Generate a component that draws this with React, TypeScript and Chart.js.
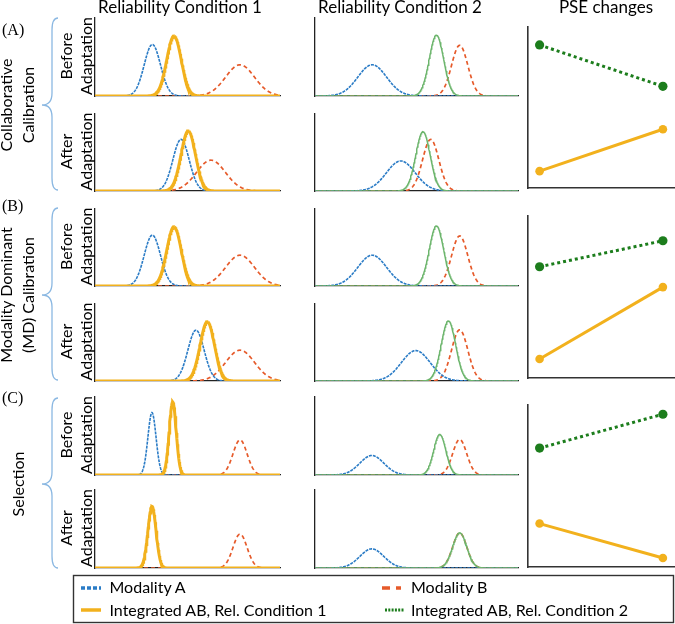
import React, { useEffect, useRef } from "react";
import { Chart, registerables } from "chart.js";
Chart.register(...registerables);

// ---------------- data ----------------
const columnTitles = ["Reliability Condition 1", "Reliability Condition 2", "PSE changes"];
const panelLetters = ["(A)", "(B)", "(C)"];
const strategyLabels = [["Collaborative", "Calibration"], ["Modality Dominant", "(MD) Calibration"], ["Selection"]];
const stageLabels = [["Before", "Adaptation"], ["After", "Adaptation"]];
const legendLabels = ["Modality A", "Modality B", "Integrated AB, Rel. Condition 1", "Integrated AB, Rel. Condition 2"];

// rows: A-before, A-after, B-before, B-after, C-before, C-after (stimulus axis in arbitrary units)
const meanModalityA = [31, 46.5, 31, 54.6, 30.8, 30.8];
const meanModalityB = [78.4, 62.7, 78.4, 78.4, 78.4, 78.4];
const meanIntegrated1 = [42.7, 50.4, 42.7, 60.7, 42, 30.8];
const meanIntegrated2 = [65.8, 58.5, 65.8, 72.3, 67.6, 78.4];

const sdModalityA1 = [4.4, 4.4, 4.4, 4.4, 2.2, 2.2];
const sdModalityB1 = [7.8, 7.8, 7.8, 7.8, 3.8, 3.8];
const sdIntegrated1 = [3.9, 3.9, 3.9, 3.9, 1.9, 2.2];
const sdModalityA2 = [7.8, 7.8, 7.8, 7.8, 6.5, 6.5];
const sdModalityB2 = [4.4, 4.4, 4.4, 4.4, 3.8, 3.8];
const sdIntegrated2 = [3.9, 3.9, 3.9, 3.9, 3.3, 3.8];

const peakModalityA1 = [66, 67, 66, 66, 80, 79];
const peakModalityB1 = [40, 40, 40, 40, 45, 43.5];
const peakIntegrated1 = [77, 78, 77, 77, 93.5, 79];
const peakModalityA2 = [40, 39, 40, 39.5, 25, 24.5];
const peakModalityB2 = [65, 67, 65, 66.5, 45.5, 45];
const peakIntegrated2 = [78, 77, 78, 78, 52, 45];

const stimulusMax1 = 100;
const stimulusMax2 = 110;

const pseStages = [0, 1]; // before, after adaptation
const pseIntegrated1 = [[42.7, 50.4], [42.7, 60.7], [42, 30.8]];
const pseIntegrated2 = [[65.9, 58.3], [65.8, 72.3], [66.5, 77.5]];
const pseAxisMin = [39.6, 37.95, 27.9];
const pseAxisMax = [69.2, 78.5, 80.5];
const pseStageMin = -0.094;
const pseStageMax = 1.09;

// ---------------- styles / layout ----------------
const BLUE = "#2b7cc6";
const ORANGE = "#e65a2a";
const YELLOW = "#f2b11d";
const GREEN_LIGHT = "#6cb56c";
const GREEN_DARK = "#1c7d1c";
const AXIS = "#222";
const BRACE = "#8bb8e2";
const FONT = "Lato, 'Open Sans', sans-serif";
const PAD = 6;

const colX = [
  { left: 95, width: 185 },
  { left: 315, width: 203 },
  { left: 528, width: 146 },
];
const rowY = [
  { top: 18, height: 78 },
  { top: 114, height: 77 },
  { top: 209, height: 77 },
  { top: 304, height: 77 },
  { top: 397, height: 78 },
  { top: 490, height: 78 },
];
const pseY = [
  { top: 27, height: 161 },
  { top: 216, height: 162 },
  { top: 405, height: 162 },
];

function gaussian(mean: number, sd: number, peak: number, xMax: number) {
  const pts: { x: number; y: number }[] = [];
  const n = xMax * 4;
  for (let i = 0; i <= n; i++) {
    const x = i / 4;
    pts.push({ x, y: peak * Math.exp(-0.5 * ((x - mean) / sd) ** 2) });
  }
  return pts;
}

function hiddenAxis(min: number, max: number) {
  return {
    type: "linear" as const,
    min,
    max,
    ticks: { display: false },
    grid: { display: false, drawTicks: false },
    border: { display: true, color: AXIS, width: 1.3 },
  };
}

function curveConfig(row: number, cond: number): any {
  const xMax = cond === 0 ? stimulusMax1 : stimulusMax2;
  const integ =
    cond === 0
      ? {
          data: gaussian(meanIntegrated1[row], sdIntegrated1[row], peakIntegrated1[row], xMax),
          borderColor: YELLOW,
          borderWidth: 3,
        }
      : {
          data: gaussian(meanIntegrated2[row], sdIntegrated2[row], peakIntegrated2[row], xMax),
          borderColor: GREEN_LIGHT,
          borderWidth: 1.5,
        };
  const a = {
    data: gaussian(
      meanModalityA[row],
      cond === 0 ? sdModalityA1[row] : sdModalityA2[row],
      cond === 0 ? peakModalityA1[row] : peakModalityA2[row],
      xMax
    ),
    borderColor: BLUE,
    borderWidth: 1.6,
    borderDash: [3, 1],
  };
  const b = {
    data: gaussian(
      meanModalityB[row],
      cond === 0 ? sdModalityB1[row] : sdModalityB2[row],
      cond === 0 ? peakModalityB1[row] : peakModalityB2[row],
      xMax
    ),
    borderColor: ORANGE,
    borderWidth: 1.7,
    borderDash: [4, 3],
  };
  return {
    type: "line",
    data: { datasets: [integ, a, b].map((d) => ({ ...d, pointRadius: 0, fill: false, tension: 0 })) },
    options: {
      animation: false,
      responsive: false,
      maintainAspectRatio: false,
      parsing: false,
      layout: { padding: PAD },
      plugins: { legend: { display: false }, tooltip: { enabled: false } },
      scales: { x: hiddenAxis(0, xMax), y: hiddenAxis(0, 100) },
    },
  };
}

function pseConfig(g: number): any {
  return {
    type: "line",
    data: {
      datasets: [
        {
          data: pseStages.map((s, i) => ({ x: s, y: pseIntegrated1[g][i] })),
          borderColor: YELLOW,
          backgroundColor: YELLOW,
          borderWidth: 3,
          pointRadius: 4.3,
          pointBorderWidth: 0,
          pointBackgroundColor: YELLOW,
        },
        {
          data: pseStages.map((s, i) => ({ x: s, y: pseIntegrated2[g][i] })),
          borderColor: GREEN_DARK,
          backgroundColor: GREEN_DARK,
          borderWidth: 3,
          borderDash: [3, 3],
          pointRadius: 4.6,
          pointBorderWidth: 0,
          pointBackgroundColor: GREEN_DARK,
        },
      ],
    },
    options: {
      animation: false,
      responsive: false,
      maintainAspectRatio: false,
      parsing: false,
      layout: { padding: PAD },
      plugins: { legend: { display: false }, tooltip: { enabled: false } },
      scales: {
        x: { ...hiddenAxis(pseStageMin, pseStageMax), border: { display: true, color: "#333", width: 1.6 } },
        y: { ...hiddenAxis(pseAxisMin[g], pseAxisMax[g]), border: { display: true, color: "#333", width: 1.6 } },
      },
    },
  };
}

function MiniChart({ left, top, width, height, config }: any) {
  const ref = useRef<HTMLCanvasElement | null>(null);
  useEffect(() => {
    if (!ref.current) return;
    const chart = new Chart(ref.current, config);
    return () => chart.destroy();
  }, []);
  const w = width + 2 * PAD;
  const h = height + 2 * PAD;
  return (
    <canvas
      ref={ref}
      width={w}
      height={h}
      style={{ position: "absolute", left: left - PAD, top: top - PAD, width: w, height: h }}
    />
  );
}

function bracePath(t: number, m: number, b: number) {
  return `M58 ${t} C53.5 ${t} 52 ${t + 4} 52 ${t + 12} L52 ${m - 12} C52 ${m - 5} 49 ${m} 42 ${m} C49 ${m} 52 ${m + 5} 52 ${m + 12} L52 ${b - 12} C52 ${b - 4} 53.5 ${b} 58 ${b}`;
}

const groupSpans = [
  { top: 18, mid: 105, bottom: 190, letterY: 34.5 },
  { top: 208, mid: 295, bottom: 380, letterY: 210.5 },
  { top: 398, mid: 484, bottom: 568, letterY: 403 },
];

export default function App() {
  const charts: any[] = [];
  for (let r = 0; r < 6; r++) {
    for (let c = 0; c < 2; c++) {
      charts.push(
        <MiniChart
          key={`c${r}-${c}`}
          left={colX[c].left}
          top={rowY[r].top}
          width={colX[c].width}
          height={rowY[r].height}
          config={curveConfig(r, c)}
        />
      );
    }
  }
  for (let g = 0; g < 3; g++) {
    charts.push(
      <MiniChart
        key={`p${g}`}
        left={colX[2].left}
        top={pseY[g].top}
        width={colX[2].width}
        height={pseY[g].height}
        config={pseConfig(g)}
      />
    );
  }

  const texts: any[] = [];
  // column titles
  const titleCenters = [180, 400, 606];
  columnTitles.forEach((t, i) =>
    texts.push(
      <text key={`t${i}`} x={titleCenters[i]} y={12.5} textAnchor="middle" fontSize={17}>
        {t}
      </text>
    )
  );
  // group letters, braces and strategy labels
  groupSpans.forEach((gs, g) => {
    texts.push(
      <text key={`l${g}`} x={2} y={gs.letterY} fontSize={16} fontFamily="'Liberation Serif', 'DejaVu Serif', serif">
        {panelLetters[g]}
      </text>
    );
    texts.push(<path key={`b${g}`} d={bracePath(gs.top, gs.mid, gs.bottom)} stroke={BRACE} strokeWidth={1.3} fill="none" />);
    const lines = strategyLabels[g];
    const baselines = lines.length === 2 ? [12, 33.5] : [23.5];
    lines.forEach((ln, j) =>
      texts.push(
        <text
          key={`s${g}-${j}`}
          x={baselines[j]}
          y={gs.mid}
          textAnchor="middle"
          fontSize={16}
          transform={`rotate(-90 ${baselines[j]} ${gs.mid})`}
        >
          {ln}
        </text>
      )
    );
  });
  // stage labels
  rowY.forEach((ry, r) => {
    const cy = ry.top + ry.height / 2 - 1;
    const lab = stageLabels[r % 2];
    const bl = [71.5, 92.3];
    lab.forEach((ln, j) =>
      texts.push(
        <text key={`st${r}-${j}`} x={bl[j]} y={cy} textAnchor="middle" fontSize={16} transform={`rotate(-90 ${bl[j]} ${cy})`}>
          {ln}
        </text>
      )
    );
  });

  return (
    <div style={{ position: "absolute", left: 0, top: 0, width: 675, height: 624, overflow: "hidden", background: "#fff" }}>
      {charts}
      <svg
        width={675}
        height={624}
        style={{ position: "absolute", left: 0, top: 0, pointerEvents: "none" }}
        fontFamily={FONT}
        fill="#000"
      >
        {texts}
        {/* legend */}
        <rect x={73.5} y={575.5} width={600} height={47} fill="none" stroke="#333" strokeWidth={1.4} />
        <line x1={81} x2={101} y1={588} y2={588} stroke={BLUE} strokeWidth={3.5} strokeDasharray="4 2" />
        <line x1={81} x2={101} y1={610} y2={610} stroke={YELLOW} strokeWidth={3.5} />
        <line x1={382} x2={401} y1={588} y2={588} stroke={ORANGE} strokeWidth={3.5} strokeDasharray="8 6" />
        <line x1={385} x2={404} y1={610} y2={610} stroke={GREEN_DARK} strokeWidth={3} strokeDasharray="2 1.3" />
        <text x={109.5} y={593} fontSize={16}>{legendLabels[0]}</text>
        <text x={109.5} y={615.5} fontSize={16}>{legendLabels[2]}</text>
        <text x={411} y={593} fontSize={16}>{legendLabels[1]}</text>
        <text x={411} y={615.5} fontSize={16}>{legendLabels[3]}</text>
      </svg>
    </div>
  );
}
